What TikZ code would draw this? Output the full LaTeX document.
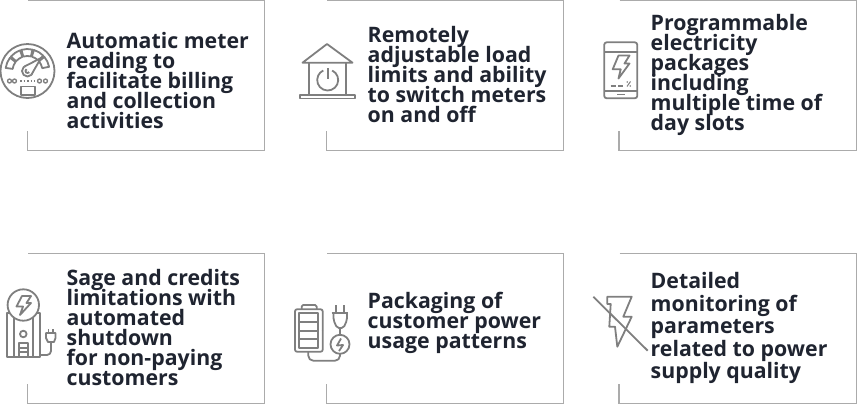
\documentclass[tikz,border=0pt]{standalone}
\usepackage{fontspec}
\setmainfont{Open Sans}
\definecolor{inkdark}{HTML}{1F2430}
\definecolor{framegray}{HTML}{ABABAB}
\definecolor{icongray}{HTML}{7F7F7F}

\begin{document}
\begin{tikzpicture}[
  x=1pt,y=-1pt,
  frame/.style={line width=1.2pt,framegray},
  icon/.style={line width=1.8pt,icongray,line join=round},
  cardtext/.style={
    anchor=north west,
    inner sep=0pt,
    align=left,
    inkdark,
    font={\bfseries\fontsize{21.3}{20}\selectfont\lineskiplimit-50pt\relax}
  },
  widetext/.style={cardtext,font={\bfseries\fontsize{21.3}{22.5}\selectfont\lineskiplimit-50pt\relax}}
]
  \useasboundingbox (0,0) rectangle (857,405);

  % open frames, top row then bottom row
  \foreach \left/\right in {28/264.8,327/563.8,619.5/856.3} {
    \draw[frame] (\left,.5) -- (\right,.5) -- (\right,150.5) -- (\left-.5,150.5) -- (\left-.5,131);
    \draw[frame] (\left,253.5) -- (\right,253.5) -- (\right,403.5) -- (\left-.5,403.5) -- (\left-.5,384);
  }

  % texts
  \node[cardtext] (meter) at (66.5,32.5) {Automatic meter\\reading to\\facilitate billing\\and collection\\activities};
  \node[cardtext] (limits) at (367.5,26.5) {Remotely\\adjustable load\\limits and ability\\to switch meters\\on and off};
  \node[cardtext] (packages) at (650.5,14.5) {Programmable\\electricity\\packages\\including\\multiple time of\\day slots};
  \node[cardtext] (credits) at (66.5,269.5) {Sage and credits\\limitations with\\automated\\shutdown\\for non-paying\\customers};
  \node[cardtext] (usage) at (367.5,291.5) {Packaging of\\customer power\\usage patterns};
  \node[widetext] (quality) at (650.5,272.5) {Detailed\\monitoring of\\parameters\\related to power\\supply quality};

  % gauge
  \coordinate (gauge) at (27.5,71);
  \draw[icon] (gauge) circle (27);
  \foreach \a in {188,221,254,287,320}
    \draw[icon] ([shift={(\a:22)}]gauge) arc[start angle=\a,delta angle=29,radius=22]
      -- ([shift={(\a+29:15)}]gauge) arc[start angle=\a+29,delta angle=-29,radius=15] -- cycle;
  \draw[icon,fill=white] (gauge) circle (5.5);
  \draw[icon] (gauge) circle (2);
  \draw[icon,fill=white] (24.5,66.5) -- (41,58) -- (31.5,74.5);
  \foreach \x in {9.5,14.5,39.5,45.5}
    \draw[line width=1.3pt,icongray] (\x,81) circle (2);
  \draw[line width=1.3pt,icongray,dash pattern=on 1.5pt off 2pt] (20,81) -- (35,81);
  \draw[icon] (21,86.5) rectangle (35,95);

  % house with power sign
  \draw[icon] (302.5,62.7) -- (327,44) -- (352.5,62.7) -- cycle;
  \draw[icon] (309,62.7) -- (309,94.5);
  \draw[icon] (346,62.7) -- (346,94.5);
  \draw[icon] (300,94.7) rectangle (355,98.5);
  \draw[icon] ([shift={(-65:10.5)}]327.7,80) arc[start angle=-65,end angle=245,radius=10.5];
  \draw[icon] (327.7,68) -- (327.7,79);

  % phone
  \draw[icon,rounded corners=2.5pt] (604.2,42.3) rectangle (637.3,98.3);
  \draw[icon] (604.2,51.7) -- (637.3,51.7);
  \draw[icon] (604.2,90.7) -- (637.3,90.7);
  \draw[icon] (617,94.4) -- (625,94.4);
  \draw[icon] (618.5,55.5) -- (629.5,55.5) -- (624.5,63.5) -- (629.5,63.5) -- (618.5,78.5) -- (620.7,69.3) -- (612.7,69.3) -- cycle;
  \draw[icon] (610.7,85.7) -- (616,85.7);
  \draw[icon] (618.3,85.7) -- (623.3,85.7);
  \draw[line width=1pt,icongray] (630.5,81.5) -- (627,86.5);
  \fill[icongray] (627.3,82) circle (.9) (630.2,86) circle (.9);

  % unit with plug
  \draw[icon] (6.7,313) rectangle (40,356.7);
  \draw[icon] (14,313) -- (14,356.7);
  \draw[icon] (32.7,313) -- (32.7,356.7);
  \draw[icon,fill=white] (23.3,305) circle (15.7);
  \draw[icon] (22,296) -- (31,296) -- (26.5,303) -- (31,303) -- (20,315) -- (23,306.5) -- (16.5,306.5) -- cycle;
  \draw[icon] (23.3,334) circle (3.3);
  \draw[icon] (19,343.3) rectangle (27.7,356.7);
  \draw[icon] (19,348) -- (27.7,348);
  \draw[icon] (19,352.3) -- (27.7,352.3);
  \draw[icon,rounded corners=4pt] (40,355) -- (51,355) -- (51,342);
  \draw[icon] (46,333) -- (46,338) -- (48,342) -- (54,342) -- (55.5,338) -- (55.5,333) -- cycle;
  \draw[icon] (48.5,333) -- (48.5,329);
  \draw[icon] (53,333) -- (53,329);

  % battery with plug
  \draw[icon,rounded corners=2pt] (295,309.3) rectangle (322.7,351.7);
  \draw[icon,rounded corners=1.5pt] (301.7,309.3) -- (301.7,305) -- (316.7,305) -- (316.7,309.3);
  \draw[icon] (299,313.3) rectangle (318.3,347.7);
  \foreach \y in {322.3,331,339.3}
    \draw[icon] (299,\y) -- (318.3,\y);
  \fill[icongray] (322.5,330.5) circle (.7);
  \draw[icon] (336,305) -- (336,313.3);
  \draw[icon] (344.3,305) -- (344.3,313.3);
  \draw[icon] (331.7,313.3) -- (348.3,313.3);
  \draw[icon,rounded corners=2pt] (333.5,313.3) -- (333.5,320) -- (337,328) -- (343.5,328) -- (347,320) -- (347,313.3);
  \draw[icon] (340,328) -- (340,335);
  \draw[icon] (340,344.3) circle (9.5);
  \draw[icon] (341,338.5) -- (337,345.5) -- (343,345) -- (339,351);
  \draw[icon,rounded corners=5pt] (308.3,351.7) -- (308.3,360.7) -- (340,360.7) -- (340,353.8);

  % crossed bolt
  \draw[icon] (607.3,296.7) -- (607.3,304) -- (610.7,304) -- (609.3,326.7) -- (615,326.7) -- (617.3,346.7)
    -- (631.7,316.7) -- (623.3,316.7) -- (631.7,296.7) -- cycle;
  \draw[icon] (593.3,296.7) -- (647.7,350.7);
\end{tikzpicture}
\end{document}
